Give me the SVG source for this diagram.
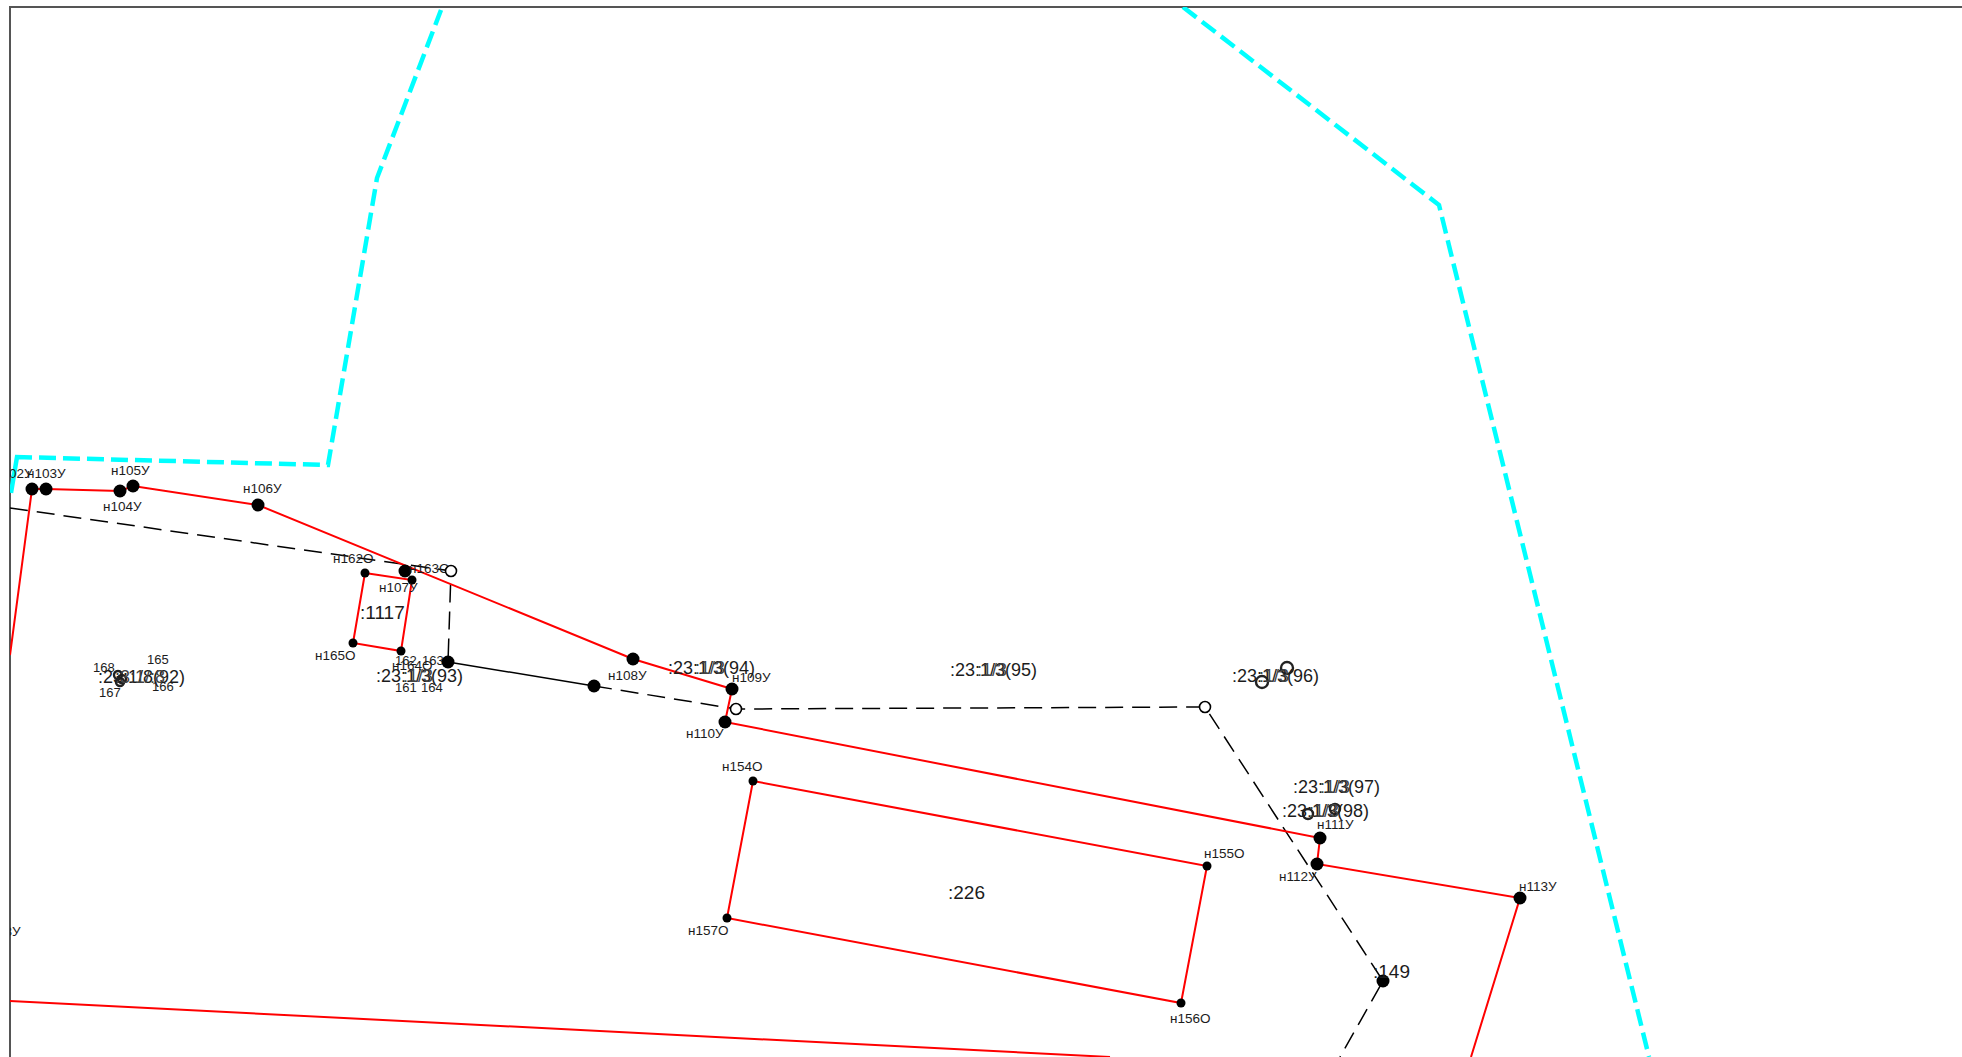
<svg xmlns="http://www.w3.org/2000/svg" width="1962" height="1057" viewBox="0 0 1962 1057">
<style>
text{font-family:"Liberation Sans",Arial,sans-serif;fill:#1c1c1c}
.s{font-size:13.5px}
.n{font-size:13px}
.b{font-size:18px}
.l{font-size:19px}
.o{font-size:18px;fill:#444}
.big{fill:#000}
.open{fill:#fff;stroke:#000;stroke-width:1.6}
.ring{fill:none;stroke:#222;stroke-width:2.4}
.red{fill:none;stroke:#f00;stroke-width:2}
.cy{fill:none;stroke:#0ff;stroke-width:4.5;stroke-dasharray:17 7}
.cs{fill:none;stroke:#0ff;stroke-width:4.5}
.da{fill:none;stroke:#000;stroke-width:1.5;stroke-dasharray:18 9}
</style>
<defs><clipPath id="c"><rect x="10" y="7" width="1952" height="1050"/></clipPath></defs>
<rect width="1962" height="1057" fill="#fff"/>
<g id="frame"><path d="M10 1057V7H1962" fill="none" stroke="#555" stroke-width="2"/></g>
<g id="connectors" clip-path="url(#c)">
<path class="cs" d="M11 493L17 457L32 457.4"/>
<path class="cy" d="M39 457.6L328 465L377 178L441 10"/>
<path class="cy" d="M1183 7L1439 205L1649 1057"/>
<path class="da" d="M10 508L451 571L448 662"/>
<path d="M448 662L594 686" fill="none" stroke="#000" stroke-width="1.5"/>
<path class="da" d="M594 686L736 709L1205 707L1383 981L1340 1057"/>
<path class="red" d="M10 655L32 489L46 489L120 491L133 486L258 505L633 659L732 689L725 722L1320 838L1317 864L1520 898L1471 1057"/>
<path class="red" d="M365 573L412 580L401 651L353 643Z"/>
<path class="red" d="M753 781L1207 866L1181 1003L727 918Z"/>
<path class="red" d="M10 1001L1110 1057"/>
</g>
<g id="parcels">
<g id="p92"><circle class="ring" cx="118" cy="675" r="4"/><circle class="ring" cx="122" cy="679" r="4"/><circle class="ring" cx="120" cy="682" r="4"/><text class="b" x="98" y="683">:23:1/8(92)</text><text class="o" x="115" y="683">:3:1/:8</text><text class="n" x="147" y="664">165</text><text class="n" x="93" y="672">168</text><text class="n" x="99" y="697">167</text><text class="n" x="152" y="691">166</text></g>
<g id="p93"><text class="n" x="395" y="665">162</text><text class="n" x="422" y="665">163</text><text class="s" x="392" y="670">н164О</text><text class="b" x="376" y="682">:23:1/3(93)</text><text class="o" x="403" y="682">:1/3</text><text class="n" x="395" y="692">161</text><text class="n" x="421" y="692">164</text></g>
<g id="p94"><text class="b" x="668" y="674">:23:1/3(94)</text><text class="o" x="695" y="674">:1/3</text></g>
<g id="p95"><text class="b" x="950" y="676">:23:1/3(95)</text><text class="o" x="977" y="676">:1/3</text></g>
<g id="p96"><circle class="ring" cx="1262" cy="682" r="6"/><circle class="ring" cx="1287" cy="668" r="6"/><text class="b" x="1232" y="682">:23:1/3(96)</text><text class="o" x="1259" y="682">:1/3</text></g>
<g id="p97"><text class="b" x="1293" y="793">:23:1/3(97)</text><text class="o" x="1320" y="793">:1/3</text></g>
<g id="p98"><circle class="ring" cx="1308" cy="814" r="5"/><circle class="ring" cx="1335" cy="809" r="5"/><text class="b" x="1282" y="817">:23:1/3(98)</text><text class="o" x="1309" y="817">:1/3</text></g>
<g id="p1117"><text class="l" x="360" y="619">:1117</text></g>
<g id="p226"><text class="l" x="948" y="899">:226</text></g>
<g id="p149"><circle class="big" cx="1383" cy="981" r="6.5"/><text class="l" x="1373" y="978">:149</text></g>
</g>
<g id="points" clip-path="url(#c)">
<g id="n102"><circle class="big" cx="32" cy="489" r="6.5"/><text class="s" x="-6" y="478">н102У</text></g>
<g id="n103"><circle class="big" cx="46" cy="489" r="6.5"/><text class="s" x="27" y="478">н103У</text></g>
<g id="n104"><circle class="big" cx="120" cy="491" r="6.5"/><text class="s" x="103" y="511">н104У</text></g>
<g id="n105"><circle class="big" cx="133" cy="486" r="6.5"/><text class="s" x="111" y="475">н105У</text></g>
<g id="n106"><circle class="big" cx="258" cy="505" r="6.5"/><text class="s" x="243" y="493">н106У</text></g>
<g id="n107"><circle class="big" cx="405" cy="571" r="6.5"/><circle class="big" cx="412" cy="580" r="4.5"/><text class="s" x="379" y="592">н107У</text></g>
<g id="n108"><circle class="big" cx="633" cy="659" r="6.5"/><text class="s" x="608" y="680">н108У</text></g>
<g id="n109"><circle class="big" cx="732" cy="689" r="6.5"/><text class="s" x="732" y="682">н109У</text></g>
<g id="n110"><circle class="big" cx="725" cy="722" r="6.5"/><text class="s" x="686" y="738">н110У</text></g>
<g id="n111"><circle class="big" cx="1320" cy="838" r="6.5"/><text class="s" x="1317" y="829">н111У</text></g>
<g id="n112"><circle class="big" cx="1317" cy="864" r="6.5"/><text class="s" x="1279" y="881">н112У</text></g>
<g id="n113"><circle class="big" cx="1520" cy="898" r="6.5"/><text class="s" x="1519" y="891">н113У</text></g>
<g id="n154"><circle class="big" cx="753" cy="781" r="4.5"/><text class="s" x="722" y="771">н154О</text></g>
<g id="n155"><circle class="big" cx="1207" cy="866" r="4.5"/><text class="s" x="1204" y="858">н155О</text></g>
<g id="n156"><circle class="big" cx="1181" cy="1003" r="4.5"/><text class="s" x="1170" y="1023">н156О</text></g>
<g id="n157"><circle class="big" cx="727" cy="918" r="4.5"/><text class="s" x="688" y="935">н157О</text></g>
<g id="n162"><circle class="big" cx="365" cy="573" r="4.5"/><text class="s" x="333" y="563">н162О</text></g>
<g id="n163"><text class="s" x="409" y="573">н163О</text></g>
<g id="n164"><circle class="big" cx="401" cy="651" r="4.5"/></g>
<g id="n165"><circle class="big" cx="353" cy="643" r="4.5"/><text class="s" x="315" y="660">н165О</text></g>
<g id="a"><circle class="open" cx="451" cy="571" r="5.5"/></g>
<g id="b"><circle class="big" cx="448" cy="662" r="6.5"/></g>
<g id="c1"><circle class="big" cx="594" cy="686" r="6.5"/></g>
<g id="d"><circle class="open" cx="736" cy="709" r="5.5"/></g>
<g id="e"><circle class="open" cx="1205" cy="707" r="5.5"/></g>
<g id="f"><text class="s" x="-18" y="936">н158У</text></g>
</g>
</svg>
